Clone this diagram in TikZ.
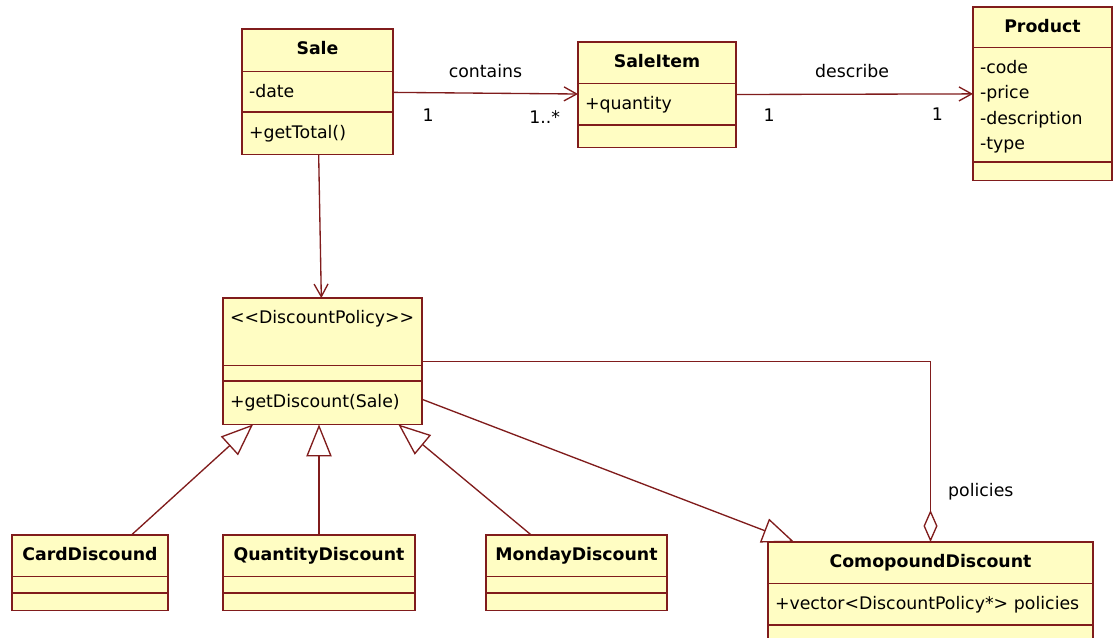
\documentclass[tikz,border=0pt]{standalone}
\usepackage{fontspec}
\setmainfont{DejaVu Sans}
\usepackage{tikz}
\usetikzlibrary{positioning, shapes.multipart, arrows.meta}

\definecolor{classline}{RGB}{128,28,28}
\definecolor{classfill}{RGB}{255,253,195}

\pgfdeclarelayer{background}
\pgfsetlayers{background,main}

\newdimen\upx \upx=0.75pt
\newcommand{\topgap}[1]{\rule{0pt}{#1\upx}}
\newcommand{\botgap}[1]{\rule[-#1\upx]{0pt}{#1\upx}}
\newcommand{\classname}[1]{\hspace*{\fill}\textbf{#1}\hspace*{\fill}}

\begin{document}
\begin{tikzpicture}[x=0.75pt, y=-0.75pt,
    umlclass/.style={rectangle split, rectangle split parts=3, draw=classline, fill=classfill,
        line width=1.1pt, inner xsep=5.25pt, inner ysep=0pt, outer sep=0pt, align=left,
        anchor=north west, font=\fontsize{13pt}{16pt}\selectfont},
    assoc/.style={draw=classline, line width=1pt, -{Straight Barb[length=9.5pt, width=10.5pt]}},
    inherit/.style={draw=classline, line width=1pt, -{Triangle[length=24pt, width=19pt, fill=white]}},
    aggreg/.style={draw=classline, line width=1pt, -{Diamond[length=24pt, width=10.5pt, fill=white]}},
    lbl/.style={inner sep=0pt, font=\fontsize{13pt}{16pt}\selectfont}]
    \useasboundingbox (0, 0) rectangle (1114, 637);

    % classes
    \node [umlclass, text width=102.75pt] (sale) at (242, 29)
        {\topgap{25}\classname{Sale}\botgap{16}
         \nodepart{second}\topgap{25}-date\botgap{14}
         \nodepart{third}\topgap{26}+getTotal()\botgap{15}};
    \node [umlclass, text width=108pt] (saleitem) at (578, 42)
        {\topgap{25}\classname{SaleItem}\botgap{15}
         \nodepart{second}\topgap{25}+quantity\botgap{15}
         \nodepart{third}\topgap{11}\botgap{10}};
    \node [umlclass, text width=93.75pt] (product) at (973, 7)
        {\topgap{25}\classname{Product}\botgap{14}
         \nodepart{second}\topgap{25}\vtop{\baselineskip=25.5\upx
            \hbox{-code}\hbox{-price}\hbox{-description}\hbox{-type}}\botgap{88}
         \nodepart{third}\topgap{9}\botgap{8}};
    \node [umlclass, text width=138.75pt] (policy) at (223, 298)
        {\topgap{25}<{}<DiscountPolicy>{}>\botgap{41}
         \nodepart{second}\topgap{7}\botgap{7}
         \nodepart{third}\topgap{26}+getDiscount(Sale)\botgap{16}};
    \node [umlclass, text width=106.5pt] (card) at (12, 535)
        {\topgap{25}\classname{CardDiscound}\botgap{15}
         \nodepart{second}\topgap{8}\botgap{7}
         \nodepart{third}\topgap{8}\botgap{8}};
    \node [umlclass, text width=133.5pt] (quantity) at (223, 535)
        {\topgap{25}\classname{QuantityDiscount}\botgap{15}
         \nodepart{second}\topgap{8}\botgap{7}
         \nodepart{third}\topgap{8}\botgap{8}};
    \node [umlclass, text width=125.25pt] (monday) at (486, 535)
        {\topgap{25}\classname{MondayDiscount}\botgap{15}
         \nodepart{second}\topgap{8}\botgap{7}
         \nodepart{third}\topgap{8}\botgap{8}};
    \node [umlclass, text width=233.25pt] (compound) at (768, 542)
        {\topgap{25}\classname{ComopoundDiscount}\botgap{15}
         \nodepart{second}\topgap{25}+vector<DiscountPolicy*>~policies\botgap{15}
         \nodepart{third}\topgap{10}\botgap{10}};

    % relations
    \begin{pgfonlayer}{background}
        \draw [assoc] (sale) -- (saleitem)
            node [lbl, midway, above=11.25pt] {contains}
            node [lbl, pos=0.19, below=12pt] {1}
            node [lbl, pos=0.82, below=12pt] {1..*};
        \draw [assoc] (saleitem) -- (product)
            node [lbl, pos=0.49, above=12pt] {describe}
            node [lbl, pos=0.14, below=10pt] {1}
            node [lbl, pos=0.85, below=10pt] {1};
        \draw [assoc] (sale) -- (policy);
        \draw [inherit] (card) -- (policy);
        \draw [inherit] (quantity.north) -- (quantity.north |- policy.south);
        \draw [inherit] (monday) -- (policy);
        \draw [inherit] (policy) -- (compound);
        \draw [aggreg] (policy.east) -| (compound.north)
            node [lbl, pos=0.86, right=12.75pt] {policies};
    \end{pgfonlayer}
\end{tikzpicture}
\end{document}
